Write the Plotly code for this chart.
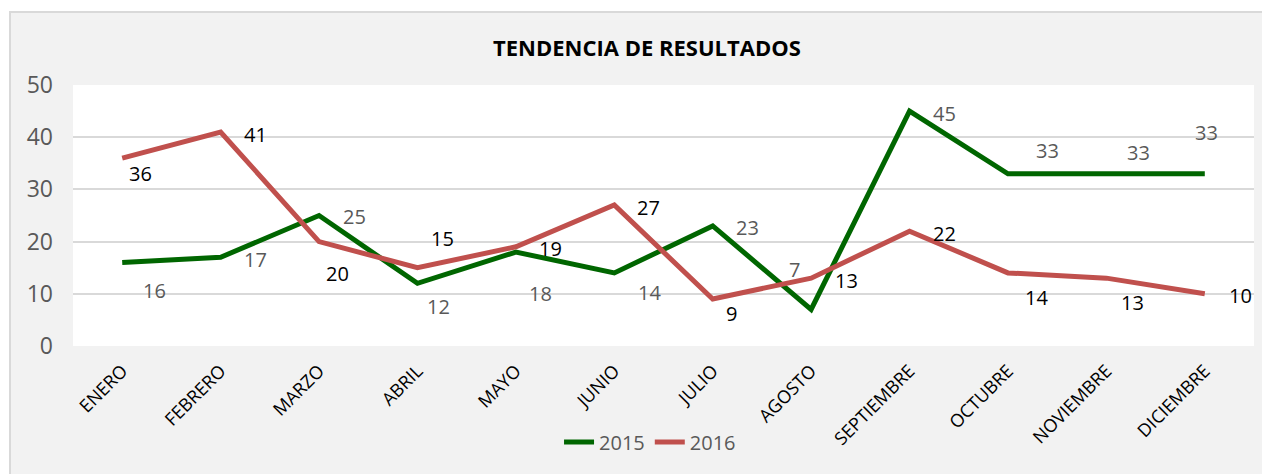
import plotly.graph_objects as go

meses = ["ENERO", "FEBRERO", "MARZO", "ABRIL", "MAYO", "JUNIO", "JULIO",
         "AGOSTO", "SEPTIEMBRE", "OCTUBRE", "NOVIEMBRE", "DICIEMBRE"]
valores_2015 = [16, 17, 25, 12, 18, 14, 23, 7, 45, 33, 33, 33]
valores_2016 = [36, 41, 20, 15, 19, 27, 9, 13, 22, 14, 13, 10]

# desplazamiento de las etiquetas (px) respecto al punto, como en el original
dx_2015 = [32, 35, 35, 21, 25, 35, 35, -17, 35, 40, 32, 2]
dy_2015 = [-28, -2, -1, -23, -41, -20, -2, 40, -2, 23, 21, 41]
dx_2016 = [18, 35, 18, 25, 35, 34, 19, 35, 35, 29, 26, 36]
dy_2016 = [-15, -3, -32, 29, -2, -2, -14, -2, -2, -25, -24, -2]

VERDE = "#006600"
ROJO = "#C0504D"
FUENTE = "Open Sans"

fig = go.Figure()
fig.add_trace(go.Scatter(x=meses, y=valores_2015, name="2015", mode="lines",
                         line=dict(color=VERDE, width=5)))
fig.add_trace(go.Scatter(x=meses, y=valores_2016, name="2016", mode="lines",
                         line=dict(color=ROJO, width=5)))

anotaciones = []
for vals, dxs, dys, color in [(valores_2015, dx_2015, dy_2015, "#595959"),
                              (valores_2016, dx_2016, dy_2016, "#000000")]:
    for mes, v, dx, dy in zip(meses, vals, dxs, dys):
        anotaciones.append(dict(x=mes, y=v, text=str(v), showarrow=False,
                                xshift=dx, yshift=dy,
                                font=dict(family=FUENTE, size=20, color=color)))

# la página tiene 8 px de margen en el body, se descuentan aquí
fig.update_layout(
    width=1262, height=466,
    margin=dict(l=65, r=16, t=77, b=128),
    paper_bgcolor="white",
    plot_bgcolor="rgba(0,0,0,0)",
    title=dict(text="<b>TENDENCIA DE RESULTADOS</b>", x=0.486, xref="paper",
               y=1 - 40 / 466, yref="container", xanchor="center", yanchor="middle",
               font=dict(family=FUENTE, size=22, color="black")),
    xaxis=dict(range=[-0.5, 11.5], showgrid=False, zeroline=False,
               showline=False, tickangle=-45, ticks="", ticklabelstandoff=10,
               tickfont=dict(family=FUENTE, size=18, color="black")),
    yaxis=dict(range=[0, 50], dtick=10, showgrid=True, gridcolor="#D9D9D9",
               gridwidth=2, zeroline=False, showline=False, ticks="",
               ticklabelstandoff=19,
               tickfont=dict(family=FUENTE, size=23, color="#595959")),
    showlegend=True,
    legend=dict(orientation="h", x=0.4886, xanchor="center", y=-0.368,
                yanchor="middle", bgcolor="rgba(0,0,0,0)",
                font=dict(family=FUENTE, size=20, color="#595959")),
    annotations=anotaciones,
    shapes=[
        dict(type="rect", xref="paper", yref="paper", layer="below",
             x0=-63 / 1181, x1=1.05, y0=-0.6, y1=1 + 73 / 261,
             fillcolor="#F2F2F2", line=dict(color="#D9D9D9", width=2)),
        dict(type="rect", xref="paper", yref="paper", layer="below",
             x0=0, x1=1, y0=0, y1=1, fillcolor="white", line=dict(width=0)),
    ],
)

fig.write_html("out.html")
